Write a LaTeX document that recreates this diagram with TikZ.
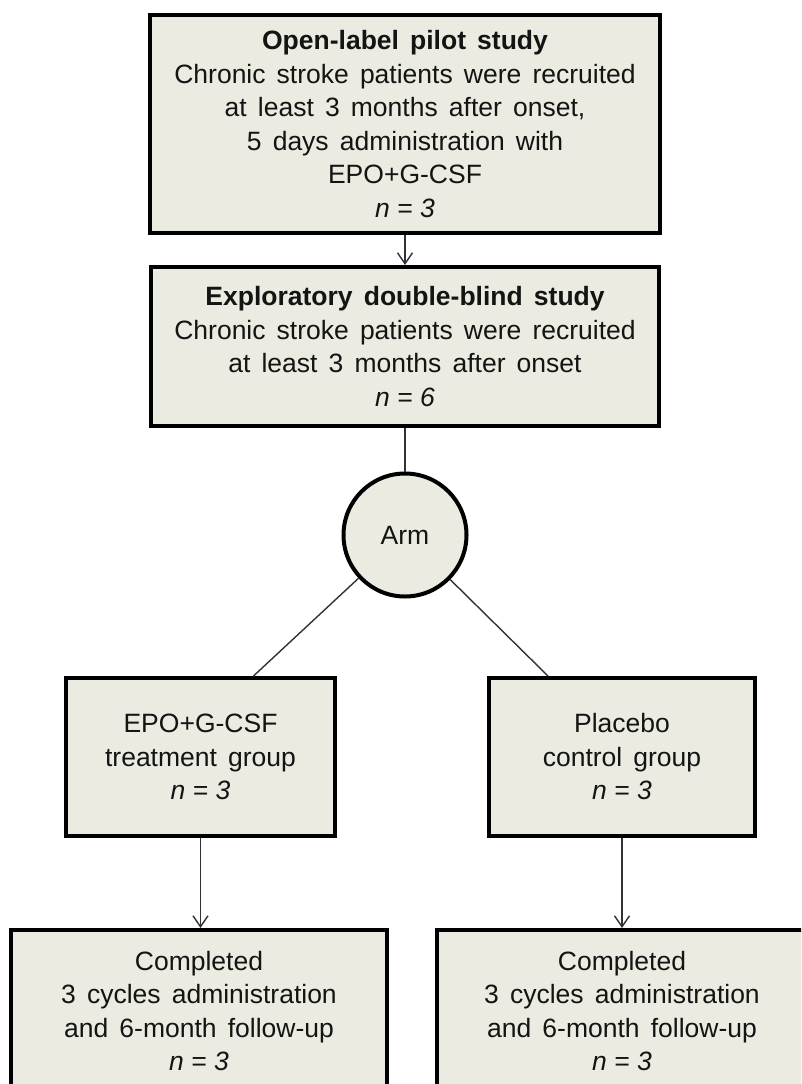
\documentclass[tikz,border=0pt]{standalone}
\usepackage{fontspec}
\setmainfont{Liberation Sans}
\usetikzlibrary{arrows.meta}
\definecolor{boxfill}{RGB}{235,235,225}
\definecolor{linkgray}{RGB}{50,50,50}
\newcommand{\ncount}[1]{\textit{\spaceskip=0pt n = #1}}

\begin{document}
\begin{tikzpicture}[
              x=1pt, y=-1pt,
              stage/.style={draw=black, line width=4pt, fill=boxfill, inner sep=0pt,
                align=center, text=black!92,
                font={\fontsize{26.5}{33.5}\selectfont\spaceskip=0.42em plus 0.1em minus 0.05em}},
              arm/.style={stage, circle, minimum size=123pt},
              link/.style={linkgray, line width=1.4pt},
              flow/.style={link, -{Straight Barb[length=11pt,width=15pt]}}
            ]
            \useasboundingbox (0,0) rectangle (801,1084);
            \clip (0,0) rectangle (801,1084);

            % Pilot study
            \node[stage, minimum width=510pt, minimum height=218pt] (pilot) at (405,124)
              {\textbf{Open-label pilot study}\\
               Chronic stroke patients were recruited\\
               at least 3 months after onset,\\
               5 days administration with\\
               EPO+G-CSF\\
               \ncount{3}};

            % Double-blind study
            \node[stage, minimum width=508pt, minimum height=159pt] (blind) at (405,346.5)
              {\textbf{Exploratory double-blind study}\\
               Chronic stroke patients were recruited\\
               at least 3 months after onset\\
               \ncount{6}};

            % Randomisation
            \node[arm] (arm) at (405,535) {Arm};

            % Groups
            \node[stage, minimum width=269pt, minimum height=158pt] (treat) at (200.5,757)
              {EPO+G-CSF\\ treatment group\\ \ncount{3}};
            \node[stage, minimum width=266pt, minimum height=158pt] (ctrl) at (622,757)
              {Placebo\\ control group\\ \ncount{3}};

            % Follow-up
            \node[stage, minimum width=376pt, minimum height=162pt] (done1) at (199,1011)
              {Completed\\ 3 cycles administration\\ and 6-month follow-up\\ \ncount{3}};
            \node[stage, minimum width=370pt, minimum height=162pt] (done2) at (622,1011)
              {Completed\\ 3 cycles administration\\ and 6-month follow-up\\ \ncount{3}};

            % Connectors
            \draw[flow] (pilot) -- (blind);
            \draw[link] (blind) -- (arm);
            \draw[link] (arm) -- ([xshift=53pt]treat.north);
            \draw[link] (arm) -- ([xshift=-74pt]ctrl.north);
            \draw[flow] (treat) -- (treat |- done1.north);
            \draw[flow] (ctrl) -- (ctrl |- done2.north);

            \end{tikzpicture}
\end{document}
